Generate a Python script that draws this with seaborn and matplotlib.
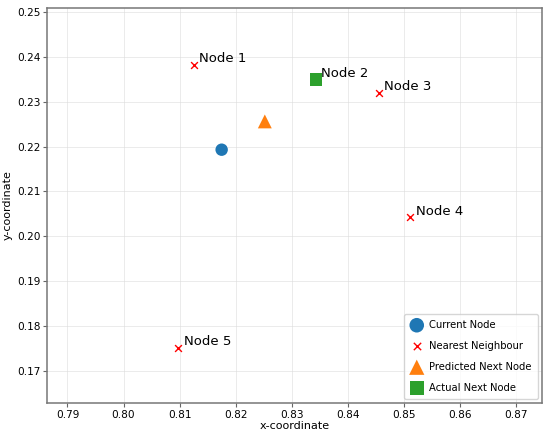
import numpy as np
import matplotlib.pyplot as plt
import pandas as pd
import seaborn as sns

# dane
current_x = [0.8175]
current_y = [0.2193]

neigh_names = ['Node 1', 'Node 3', 'Node 4', 'Node 5']
neigh_x = [0.8125, 0.8455, 0.8511, 0.8098]
neigh_y = [0.2382, 0.2320, 0.2042, 0.1751]

pred_x = [0.8252]
pred_y = [0.2256]

actual_name = 'Node 2'
actual_x = [0.8343]
actual_y = [0.2349]

plt.rcParams['font.family'] = ['DejaVu Sans']
fig, ax = plt.subplots(figsize=(5.5, 4.36), dpi=100)

sns.scatterplot(x=current_x, y=current_y, ax=ax, marker='o', s=80, color='#1f77b4',
                edgecolor='none', label='Current Node', zorder=3)
sns.scatterplot(x=neigh_x, y=neigh_y, ax=ax, marker='x', s=24, color='red',
                linewidth=1.0, label='Nearest Neighbour', zorder=3)
sns.scatterplot(x=pred_x, y=pred_y, ax=ax, marker='^', s=100, color='#ff7f0e',
                edgecolor='none', label='Predicted Next Node', zorder=3)
sns.scatterplot(x=actual_x, y=actual_y, ax=ax, marker='s', s=80, color='#2ca02c',
                edgecolor='none', label='Actual Next Node', zorder=3)

for n, x, y in zip(neigh_names, neigh_x, neigh_y):
    ax.annotate(n, (x, y), xytext=(4, 2), textcoords='offset points', fontsize=9.5)
ax.annotate(actual_name, (actual_x[0], actual_y[0]), xytext=(4, 2),
            textcoords='offset points', fontsize=9.5)

ax.set_xlim(0.7864, 0.8746)
ax.set_ylim(0.1629, 0.2509)
ax.set_xticks(np.arange(0.79, 0.8701, 0.01))
ax.set_yticks(np.arange(0.17, 0.2501, 0.01))
ax.xaxis.set_major_formatter(plt.FormatStrFormatter('%.2f'))
ax.yaxis.set_major_formatter(plt.FormatStrFormatter('%.2f'))
ax.tick_params(labelsize=7.6, length=3, pad=2, color='#666666')
ax.set_xlabel('x-coordinate', fontsize=8, labelpad=1)
ax.set_ylabel('y-coordinate', fontsize=8, labelpad=3)
ax.grid(True, color='#dddddd', alpha=0.6, linewidth=0.7)
for s in ax.spines.values():
    s.set_color('#777777')
    s.set_linewidth(1.1)

leg = ax.legend(loc='lower right', fontsize=7.2, labelspacing=1.1, borderpad=0.6,
                handlelength=1.3, handletextpad=0.6, borderaxespad=0.4)
for h, sz in zip(leg.legend_handles, [110, 28, 120, 100]):
    h.set_sizes([sz])

plt.subplots_adjust(left=0.086, right=0.985, top=0.982, bottom=0.076)
plt.savefig('out.png')
